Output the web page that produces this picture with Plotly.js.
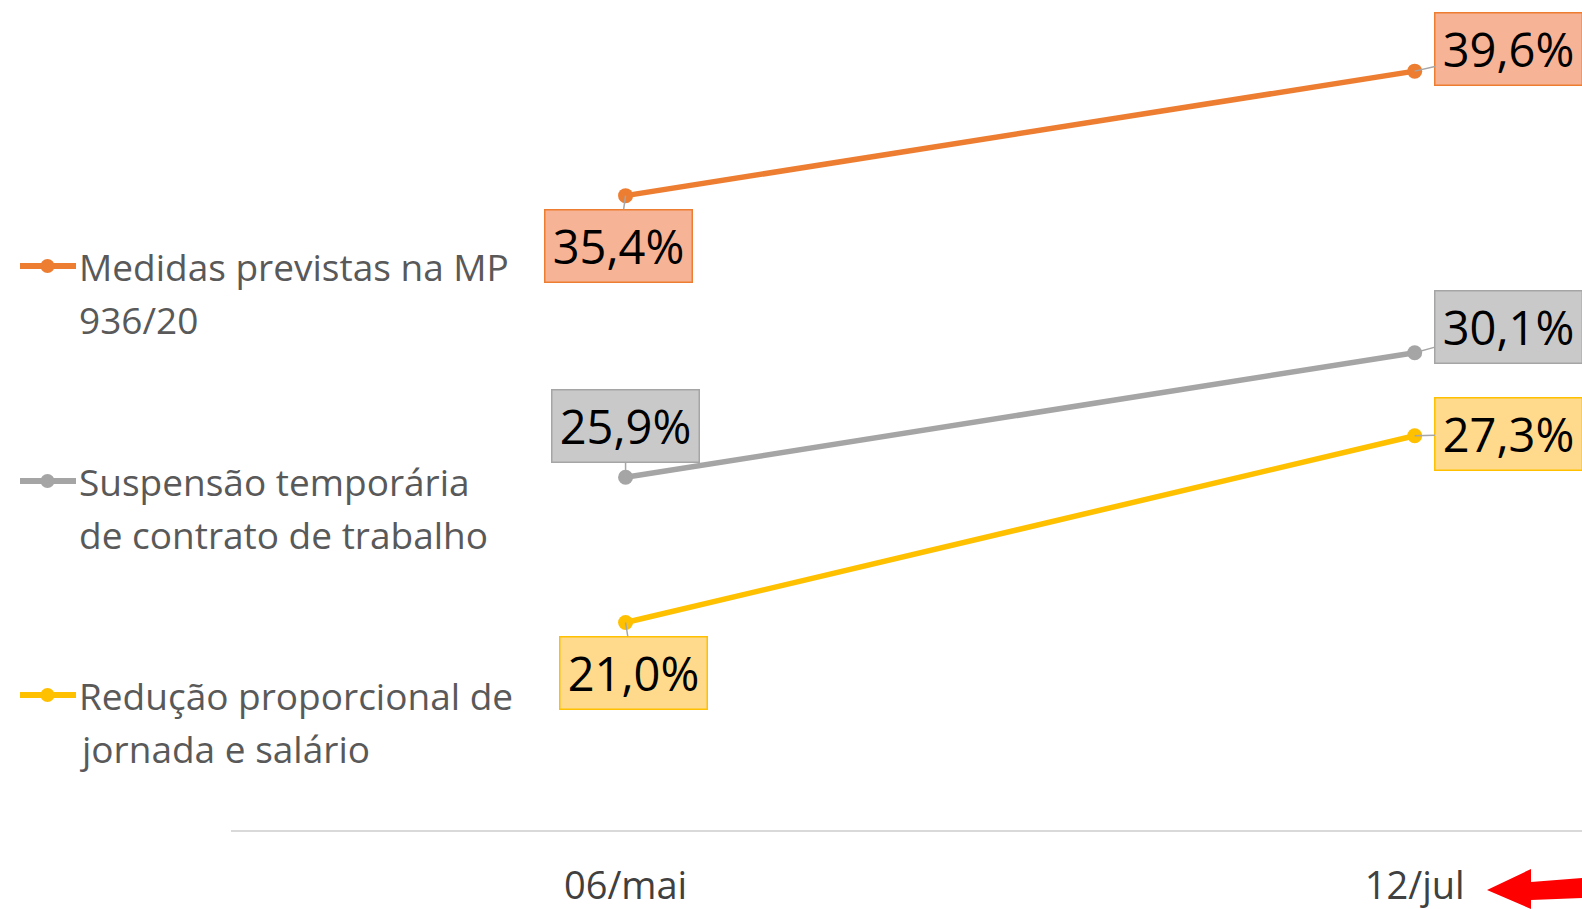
<!DOCTYPE html>
<html>
<head>
<meta charset="utf-8">
<script src="https://cdn.plot.ly/plotly-3.0.1.min.js"></script>
<style>
  html, body { margin: 0; padding: 0; background: #ffffff; }
  #chart { width: 1582px; height: 909px; }
</style>
</head>
<body>
<div id="chart"></div>
<script>
// ---- data ----
const categories = ['06/mai', '12/jul'];
const seriesNames = ['Medidas previstas na MP 936/20', 'Suspensão temporária de contrato de trabalho', 'Redução proporcional de jornada e salário'];
const legendLines = [['Medidas previstas na MP', '936/20'], ['Suspensão temporária', 'de contrato de trabalho'], ['Redução proporcional de', 'jornada e salário']];
const medidasMP = [35.4, 39.6];
const suspensao = [25.9, 30.1];
const reducao = [21.0, 27.3];
const seriesValues = [medidasMP, suspensao, reducao];

// ---- styling ----
const lineColors = ['#ED7D31', '#A5A5A5', '#FFC000'];
const boxFill = ['#F6B395', '#C9C9C9', '#FFD98C'];
const FONT = '"Open Sans", "Noto Sans", sans-serif';

// plot area geometry (pixels)
const W = 1582, H = 909;
const M = {l: 231, r: 0, t: 0, b: 79};
const PW = W - M.l - M.r, PH = H - M.t - M.b;
const px2x = p => (p - M.l) / PW;
const px2y = p => (H - M.b - p) / PH;

// label offsets (pixels from point to box center), per series, per category
const labelOffsets = [
  [[-7, 50], [94, -22]],
  [[0, -51], [94, -26]],
  [[8, 50], [94, -2]]
];

const fmt = v => v.toFixed(1).replace('.', ',') + '%';

const traces = seriesValues.map((vals, i) => ({
  type: 'scatter',
  mode: 'lines+markers',
  name: seriesNames[i],
  x: categories,
  y: vals,
  line: {color: lineColors[i], width: 5.5},
  marker: {color: lineColors[i], size: 15},
  showlegend: false,
  hoverinfo: 'skip'
}));

const annotations = [];
const shapes = [];

// data labels
seriesValues.forEach((vals, i) => {
  vals.forEach((v, j) => {
    annotations.push({
      x: j, y: v, xref: 'x', yref: 'y',
      text: fmt(v),
      showarrow: true, arrowhead: 0, arrowwidth: 1.5, arrowcolor: '#A6A6A6',
      ax: labelOffsets[i][j][0], ay: labelOffsets[i][j][1],
      standoff: 0,
      font: {family: FONT, size: 47, color: '#000000'},
      bgcolor: boxFill[i], bordercolor: lineColors[i], borderwidth: 1.5, borderpad: 0,
      width: 146, height: 71, align: 'center', valign: 'middle'
    });
  });
});

// manual legend
const legendY = [266, 481, 695];
const lineGap = 53;
legendLines.forEach((lines, i) => {
  lines.forEach((t, k) => {
    annotations.push({
      x: px2x(77), y: px2y(legendY[i] + k * lineGap), xref: 'paper', yref: 'paper',
      text: t, showarrow: false, xanchor: 'left', yanchor: 'middle',
      font: {family: FONT, size: 37, color: '#595959'}
    });
  });
  shapes.push({
    type: 'line', xref: 'paper', yref: 'paper',
    x0: px2x(20), x1: px2x(76), y0: px2y(legendY[i]), y1: px2y(legendY[i]),
    line: {color: lineColors[i], width: 6}
  });
  shapes.push({
    type: 'circle', xref: 'paper', yref: 'paper',
    x0: px2x(47.5 - 7), x1: px2x(47.5 + 7), y0: px2y(legendY[i] - 7), y1: px2y(legendY[i] + 7),
    fillcolor: lineColors[i], line: {color: lineColors[i], width: 0}
  });
});

// red arrow pointing at the last category label
const arrowPts = [[1487, 890], [1531, 869], [1531, 882], [1582, 878], [1582, 898], [1531, 900], [1531, 909]];
shapes.push({
  type: 'path', xref: 'paper', yref: 'paper',
  path: 'M ' + arrowPts.map(p => px2x(p[0]) + ',' + px2y(p[1])).join(' L ') + ' Z',
  fillcolor: '#FF0000', line: {color: '#FF0000', width: 0}
});

const layout = {
  width: W, height: H,
  margin: M,
  paper_bgcolor: '#ffffff', plot_bgcolor: 'rgba(0,0,0,0)',
  showlegend: false,
  xaxis: {
    type: 'category',
    range: [-0.5, 1.212],
    showline: true, linecolor: '#D9D9D9', linewidth: 1.5,
    showgrid: false, zeroline: false,
    ticks: 'outside', ticklen: 22, tickcolor: 'rgba(0,0,0,0)',
    tickfont: {family: FONT, size: 38, color: '#404040'},
    fixedrange: true
  },
  yaxis: {
    range: [14, 42],
    visible: false,
    showgrid: false, zeroline: false,
    fixedrange: true
  },
  annotations: annotations,
  shapes: shapes
};

Plotly.newPlot('chart', traces, layout, {displayModeBar: false, staticPlot: true});
</script>
</body>
</html>
